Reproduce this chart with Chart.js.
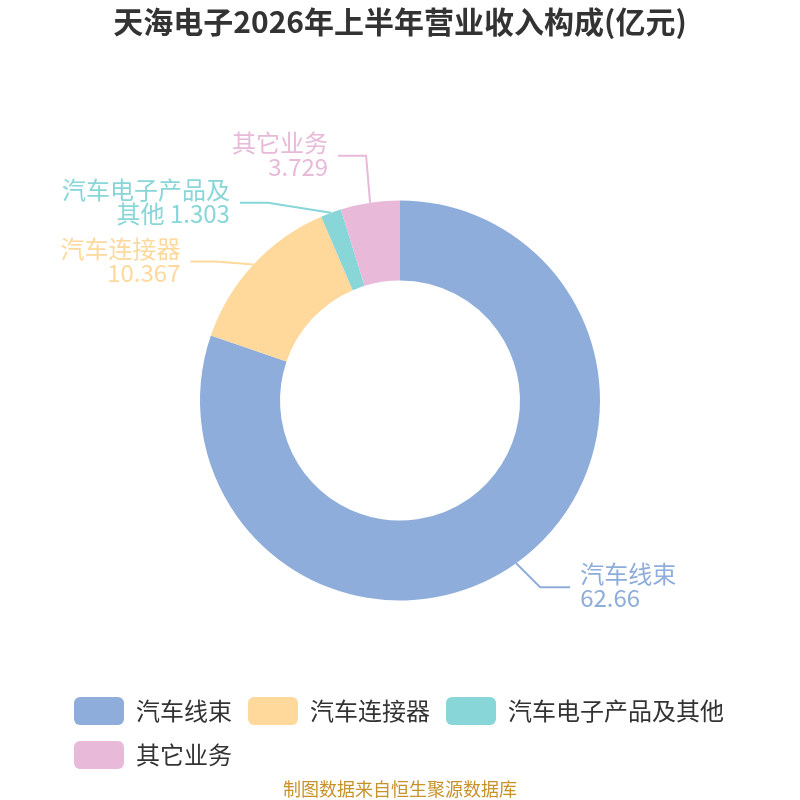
<!DOCTYPE html>
<html>
<head>
<meta charset="utf-8">
<script src="https://cdn.jsdelivr.net/npm/chart.js@4/dist/chart.umd.min.js"></script>
<style>
  html, body { margin: 0; padding: 0; background: #fff; }
  #wrap { width: 800px; height: 800px; }
</style>
</head>
<body>
<div id="wrap"><canvas id="pieChart" width="800" height="800"></canvas></div>
<script>
const categories = ['汽车线束', '汽车连接器', '汽车电子产品及其他', '其它业务']
const values = [62.66, 10.367, 1.303, 3.729]
const valueLabels = ['62.66', '10.367', '1.303', '3.729']
const colors = ['#8eaddb', '#fed99b', '#88d6d8', '#e8b9d9']

const FONT = '"Noto Sans CJK SC", "Noto Sans", sans-serif'

// leader line bends: offset of the elbow from the arc point, then length of the flat part
const bends = [
	{ dx: 24, dy: 24, len: 30 },
	{ dx: -38, dy: -3, len: -25 },
	{ dx: -63, dy: -10, len: -28 },
	{ dx: -4, dy: -47, len: -28 }
]

function wrapName(name, value) {
	if (name.length <= 7) return [name, value]
	return [name.slice(0, 7), name.slice(7) + ' ' + value]
}

const outerLabels = {
	id: 'outerLabels',
	afterDatasetsDraw(chart) {
		const c = chart.ctx
		const meta = chart.getDatasetMeta(0)
		meta.data.forEach((arc, i) => {
			const mid = (arc.startAngle + arc.endAngle) / 2
			const r = arc.outerRadius
			const sx = arc.x + Math.cos(mid) * r
			const sy = arc.y + Math.sin(mid) * r
			const b = bends[i]
			const ex = sx + b.dx
			const ey = sy + b.dy
			const fx = ex + b.len
			c.save()
			c.strokeStyle = colors[i]
			c.lineWidth = 2
			c.beginPath()
			c.moveTo(sx, sy)
			c.lineTo(ex, ey)
			c.lineTo(fx, ey)
			c.stroke()
			c.fillStyle = colors[i]
			c.font = '24px ' + FONT
			c.textBaseline = 'middle'
			const right = b.len > 0
			c.textAlign = right ? 'left' : 'right'
			const tx = right ? fx + 10 : fx - 10
			const lines = wrapName(categories[i], valueLabels[i])
			c.fillText(lines[0], tx, ey - 13)
			c.fillText(lines[1], tx, ey + 11)
			c.restore()
		})
	},
	afterDraw(chart) {
		const c = chart.ctx
		c.save()
		c.fillStyle = '#c8922a'
		c.font = '18px ' + FONT
		c.textAlign = 'center'
		c.textBaseline = 'middle'
		c.fillText('制图数据来自恒生聚源数据库', 400, 789)
		c.restore()
	}
}

const ctx = document.getElementById('pieChart')
new Chart(ctx, {
	type: 'doughnut',
	data: {
		labels: categories,
		datasets: [{
			data: values,
			backgroundColor: colors,
			borderWidth: 0,
			hoverOffset: 0,
			radius: 200
		}]
	},
	options: {
		responsive: false,
		animation: false,
		cutout: '60%',
		layout: { padding: { left: 58, right: 58, top: 0, bottom: 21 } },
		plugins: {
			title: {
				display: true,
				text: '天海电子2026年上半年营业收入构成(亿元)',
				color: '#333',
				font: { family: FONT, size: 30, weight: 'bold', lineHeight: 1.2 },
				padding: { top: 4, bottom: 80 }
			},
			legend: {
				position: 'bottom',
				align: 'start',
				labels: {
					boxWidth: 50,
					boxHeight: 28,
					useBorderRadius: true,
					borderRadius: 6,
					padding: 16,
					color: '#333',
					font: { family: FONT, size: 24, lineHeight: 1.375 }
				}
			},
			tooltip: { enabled: false }
		}
	},
	plugins: [outerLabels]
})
</script>
</body>
</html>
